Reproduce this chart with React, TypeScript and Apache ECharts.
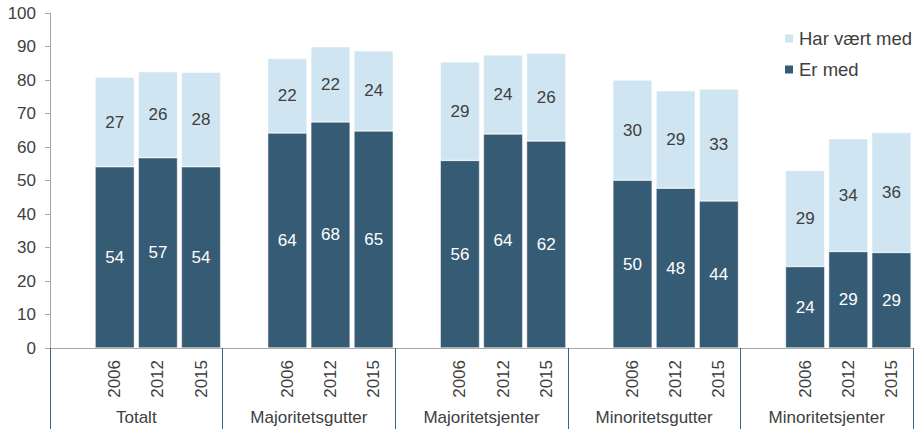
import React, { useEffect, useRef } from "react";
import * as echarts from "echarts";

const groups = ["Totalt", "Majoritetsgutter", "Majoritetsjenter", "Minoritetsgutter", "Minoritetsjenter"];
const years = ["2006", "2012", "2015"];
// values per group, in order of years
const erMed = [54.1, 56.8, 54.1, 64.2, 67.5, 64.8, 56.0, 63.9, 61.8, 50.1, 47.7, 43.9, 24.3, 28.8, 28.5];
const harVaertMed = [26.7, 25.7, 28.2, 22.2, 22.4, 23.9, 29.4, 23.6, 26.2, 29.9, 29.1, 33.4, 28.7, 33.7, 35.8];
const yTicks = [0, 10, 20, 30, 40, 50, 60, 70, 80, 90, 100];

const DARK = "#365b75";
const LIGHT = "#cfe5f1";
const TEXT = "#404040";
const FONT = "Arial, 'Liberation Sans', sans-serif";

export default function App() {
  const ref = useRef<HTMLDivElement>(null);
  useEffect(() => {
    if (!ref.current) return;
    const chart = echarts.init(ref.current, undefined, { renderer: "svg" });
    const cats: string[] = [];
    const dark: (number | string)[] = [];
    const light: (number | string)[] = [];
    groups.forEach((g, gi) => {
      cats.push("");
      dark.push("-");
      light.push("-");
      years.forEach((y, yi) => {
        cats.push(y);
        dark.push(erMed[gi * 3 + yi]);
        light.push(harVaertMed[gi * 3 + yi]);
      });
    });
    chart.setOption({
      animation: false,
      textStyle: { fontFamily: FONT },
      grid: { left: 50, right: 3, top: 13, bottom: 81, containLabel: false },
      legend: {
        data: ["Har vært med", "Er med"],
        orient: "vertical",
        left: 778,
        top: 24,
        itemWidth: 10,
        itemHeight: 10,
        itemGap: 12,
        icon: "rect",
        textStyle: { fontSize: 18.5, color: TEXT, fontFamily: FONT },
      },
      xAxis: [
        {
          type: "category",
          data: cats,
          position: "bottom",
          axisLine: { show: true, lineStyle: { color: "#a6a6a6", width: 1 } },
          axisTick: { show: false },
          axisLabel: {
            interval: 0,
            rotate: 90,
            margin: 12,
            fontSize: 17,
            color: TEXT,
            fontFamily: FONT,
          },
        },
        {
          type: "category",
          data: groups,
          position: "bottom",
          axisLine: { show: false },
          axisTick: { show: true, interval: 0, length: 81, lineStyle: { color: "#3a6680", width: 1 } },
          axisLabel: { interval: 0, margin: 61, fontSize: 17, color: TEXT, fontFamily: FONT },
        },
      ],
      yAxis: {
        type: "value",
        min: yTicks[0],
        max: yTicks[yTicks.length - 1],
        interval: 10,
        axisLine: { show: true, lineStyle: { color: "#a6a6a6" } },
        axisTick: { show: true, length: 5, lineStyle: { color: "#a6a6a6" } },
        splitLine: { show: false },
        axisLabel: { margin: 14, fontSize: 17, color: TEXT, fontFamily: FONT },
      },
      series: [
        {
          name: "Er med",
          type: "bar",
          stack: "s",
          xAxisIndex: 0,
          data: dark,
          barCategoryGap: "9%",
          itemStyle: { color: DARK, borderColor: "#ffffff", borderWidth: 0.5 },
          label: {
            show: true,
            position: "inside",
            color: "#ffffff",
            fontSize: 17,
            fontFamily: FONT,
            formatter: (p: any) => String(Math.round(p.value)),
          },
        },
        {
          name: "Har vært med",
          type: "bar",
          stack: "s",
          xAxisIndex: 0,
          data: light,
          barCategoryGap: "9%",
          itemStyle: { color: LIGHT, borderColor: "#ffffff", borderWidth: 0.5 },
          label: {
            show: true,
            position: "inside",
            color: TEXT,
            fontSize: 17,
            fontFamily: FONT,
            formatter: (p: any) => String(Math.round(p.value)),
          },
        },
      ],
    });
    return () => chart.dispose();
  }, []);
  return <div ref={ref} style={{ width: 916, height: 429, position: "absolute", left: 0, top: 0 }} />;
}
